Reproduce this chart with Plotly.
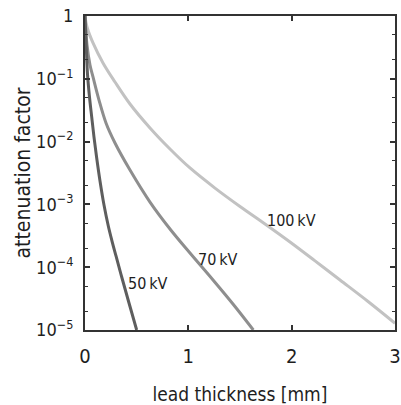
import math
import plotly.graph_objects as go

# lead thickness [mm] and attenuation factor per tube voltage
t_50 = [0, 0.0097, 0.0242, 0.0435, 0.0648, 0.0871, 0.1132, 0.1452, 0.1839, 0.2255,
        0.2613, 0.30, 0.358, 0.4258, 0.50]
a_50 = [1, 4.15e-1, 1.19e-1, 5.13e-2, 2.47e-2, 1.18e-2, 5.48e-3, 2.36e-3, 9.77e-4, 4.53e-4,
        2.61e-4, 1.51e-4, 6.73e-5, 2.69e-5, 1.0e-5]

t_70 = [0, 0.0194, 0.0484, 0.0774, 0.1355, 0.2032, 0.2903, 0.4355, 0.629, 0.8226,
        1.016, 1.239, 1.432, 1.629]
a_70 = [1, 3.45e-1, 1.66e-1, 1.07e-1, 4.59e-2, 1.98e-2, 9.51e-3, 3.53e-3, 1.09e-3, 4.06e-4,
        1.68e-4, 6.25e-5, 2.59e-5, 1.0e-5]

t_100 = [0, 0.0194, 0.0774, 0.1742, 0.2903, 0.4355, 0.629, 0.8226, 1.016, 1.258,
         1.50, 1.742, 1.984, 2.226, 2.468, 2.739, 3.0]
a_100 = [1, 6.68e-1, 3.72e-1, 1.79e-1, 8.89e-2, 3.97e-2, 1.65e-2, 7.62e-3, 3.80e-3, 1.82e-3,
         9.27e-4, 4.88e-4, 2.52e-4, 1.26e-4, 6.25e-5, 2.84e-5, 1.28e-5]

labels = ["50\u2009kV", "70\u2009kV", "100\u2009kV"]
label_x = [0.61, 1.29, 2.0]
label_y = [5.6e-5, 1.35e-4, 5.6e-4]

y_tickvals = [1e-5, 1e-4, 1e-3, 1e-2, 1e-1, 1]
y_ticktext = ["10<sup>\u22125</sup>", "10<sup>\u22124</sup>", "10<sup>\u22123</sup>",
              "10<sup>\u22122</sup>", "10<sup>\u22121</sup>", "1"]
x_tickvals = [0, 1, 2, 3]

FONT = "DejaVu Sans Condensed, sans-serif"
TXT = "#1e1e1e"
AX = "#333333"

fig = go.Figure()
for t, a, c in [(t_100, a_100, "#c2c2c2"), (t_70, a_70, "#8e8e8e"), (t_50, a_50, "#5e5e5e")]:
    fig.add_trace(go.Scatter(x=t, y=a, mode="lines",
                             line=dict(color=c, width=3, shape="spline", smoothing=1.0),
                             showlegend=False, hoverinfo="skip"))

for txt, x, y in zip(labels, label_x, label_y):
    fig.add_annotation(x=x, y=math.log10(y), text=txt, showarrow=False,
                       font=dict(size=16, color=TXT, family=FONT))

fig.update_layout(
    width=401, height=405,
    margin=dict(l=85, r=6, t=16, b=75),
    paper_bgcolor="white", plot_bgcolor="white",
    font=dict(family=FONT, color=TXT),
)
fig.update_xaxes(
    range=[0, 3], tickvals=x_tickvals, ticktext=[str(v) for v in x_tickvals],
    ticks="inside", ticklen=5, tickwidth=1.5, tickcolor=AX,
    showline=True, linewidth=2, linecolor=AX, mirror="ticks",
    showgrid=False, zeroline=False, automargin=False,
    ticklabeloverflow="allow",
    tickfont=dict(size=20, family=FONT, color=TXT),
    ticklabelstandoff=7,
    title=dict(text="lead thickness [mm]", font=dict(size=19, family=FONT, color=TXT), standoff=22),
)
fig.update_yaxes(
    type="log", range=[-5, 0], tickvals=y_tickvals, ticktext=y_ticktext,
    ticks="inside", ticklen=5, tickwidth=1.5, tickcolor=AX,
    minor=dict(ticks="inside", ticklen=3, tickwidth=1.2, tickcolor=AX,
               tickvals=[m * 10 ** e for e in range(-5, 0) for m in (2, 5)]),
    showline=True, linewidth=2, linecolor=AX, mirror="ticks",
    showgrid=False, zeroline=False, automargin=False,
    ticklabeloverflow="allow",
    tickfont=dict(size=18, family=FONT, color=TXT),
    ticklabelstandoff=6,
    title=dict(text="attenuation factor", font=dict(size=21, family=FONT, color=TXT), standoff=0),
)

# remove the default page margin so the 401x405 figure fills the window exactly
fig.write_html("out.html", config={"displayModeBar": False},
               post_script="document.body.style.margin='0';")
